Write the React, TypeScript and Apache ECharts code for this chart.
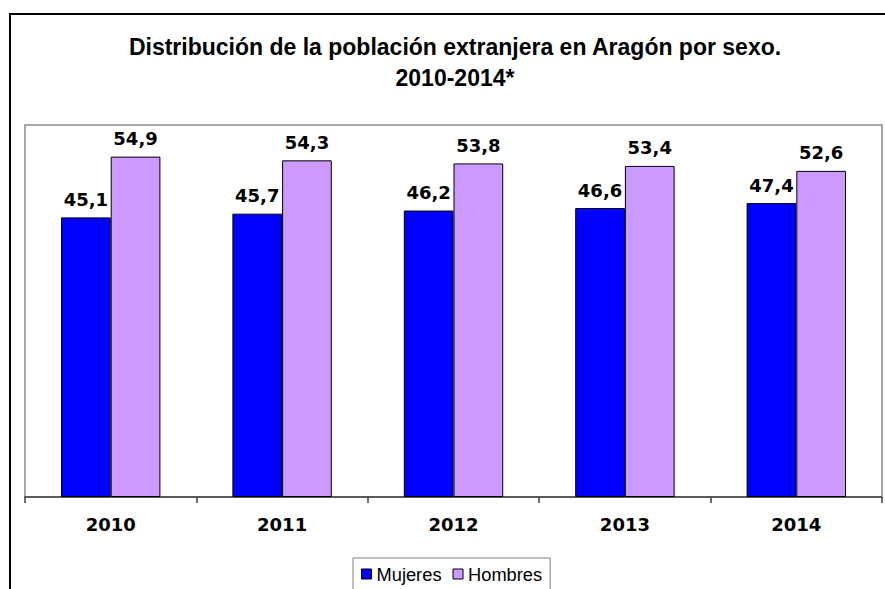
import React, { useEffect, useRef } from "react";
import * as echarts from "echarts";

const categories = ["2010", "2011", "2012", "2013", "2014"];
const mujeres = [45.1, 45.7, 46.2, 46.6, 47.4];
const hombres = [54.9, 54.3, 53.8, 53.4, 52.6];
const titleLines = ["Distribución de la población extranjera en Aragón por sexo.", "2010-2014*"];

const fmt = (p: any) => Number(p.value).toFixed(1).replace(".", ",");

export default function App() {
  const ref = useRef<HTMLDivElement>(null);
  useEffect(() => {
    if (!ref.current) return;
    const chart = echarts.init(ref.current, null, { renderer: "svg" });
    const labelStyle = {
      show: true,
      position: "top" as const,
      distance: 9,
      formatter: fmt,
      color: "#000",
      fontFamily: "DejaVu Sans",
      fontWeight: "bold" as const,
      fontSize: 18,
    };
    chart.setOption({
      animation: false,
      backgroundColor: "#fff",
      graphic: [
        {
          type: "rect",
          shape: { x: 10, y: 14, width: 900, height: 600 },
          style: { fill: "none", stroke: "#000", lineWidth: 2 },
          silent: true,
        },
        {
          type: "text",
          x: 455,
          y: 47,
          style: {
            text: titleLines[0],
            align: "center",
            verticalAlign: "middle",
            fontFamily: "Liberation Sans",
            fontWeight: "bold",
            fontSize: 23,
            fill: "#000",
          },
        },
        {
          type: "text",
          x: 455,
          y: 78,
          style: {
            text: titleLines[1],
            align: "center",
            verticalAlign: "middle",
            fontFamily: "Liberation Sans",
            fontWeight: "bold",
            fontSize: 23,
            fill: "#000",
          },
        },
      ],
      grid: {
        left: 25,
        right: 3,
        top: 125,
        bottom: 92,
        show: true,
        borderColor: "#8c8c8c",
        borderWidth: 1.5,
        backgroundColor: "#fff",
      },
      legend: {
        left: 353,
        top: 558,
        padding: [7, 8],
        itemGap: 11,
        itemWidth: 10,
        itemHeight: 10,
        borderColor: "#808080",
        borderWidth: 1,
        icon: "rect",
        itemStyle: { borderColor: "#000", borderWidth: 1 },
        textStyle: { fontFamily: "Liberation Sans", fontSize: 18.3, color: "#000" },
        data: ["Mujeres", "Hombres"],
      },
      xAxis: {
        type: "category",
        data: categories,
        axisLine: { lineStyle: { color: "#404040", width: 1.5 } },
        axisTick: { show: true, length: 6, alignWithLabel: false, lineStyle: { color: "#404040", width: 1.5 } },
        axisLabel: {
          margin: 18,
          color: "#000",
          fontFamily: "DejaVu Sans",
          fontWeight: "bold",
          fontSize: 18,
        },
      },
      yAxis: {
        type: "value",
        min: 0,
        max: 60,
        show: false,
        splitLine: { show: false },
      },
      series: [
        {
          name: "Mujeres",
          type: "bar",
          data: mujeres,
          barGap: "0%",
          barCategoryGap: "42%",
          itemStyle: { color: "#0000FF", borderColor: "#000", borderWidth: 1 },
          label: labelStyle,
        },
        {
          name: "Hombres",
          type: "bar",
          data: hombres,
          barGap: "0%",
          barCategoryGap: "42%",
          itemStyle: { color: "#CC99FF", borderColor: "#000", borderWidth: 1 },
          label: labelStyle,
        },
      ],
    });
    return () => chart.dispose();
  }, []);
  return (
    <div
      ref={ref}
      style={{ position: "absolute", left: 0, top: 0, width: 885, height: 589 }}
    />
  );
}
